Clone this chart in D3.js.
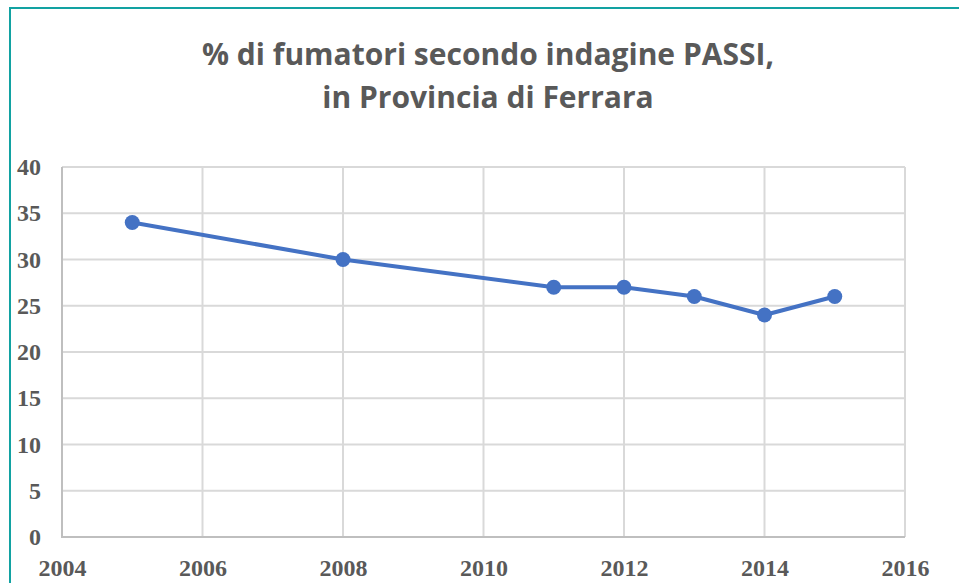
<!DOCTYPE html>
<html>
<head>
    <title>Fumatori PASSI Ferrara</title>
    <script src="https://d3js.org/d3.v7.min.js"></script>
    <style>
        body { margin: 0; background: #fff; }
        .tick-label { font-family: "Liberation Serif", serif; font-weight: bold; font-size: 24px; fill: #595959; }
        .title { font-family: "Open Sans", sans-serif; font-weight: bold; font-size: 30px; fill: #595959; }
    </style>
</head>
<body>
    <script>
        //****DATA****
        const years = [2005, 2008, 2011, 2012, 2013, 2014, 2015];
        const smokers = [34, 30, 27, 27, 26, 24, 26];
        const xTicks = [2004, 2006, 2008, 2010, 2012, 2014, 2016];
        const yTicks = [0, 5, 10, 15, 20, 25, 30, 35, 40];
        const titleLines = ['% di fumatori secondo indagine PASSI,', 'in Provincia di Ferrara'];

        const width = 959;
        const height = 583;
        const plotLeft = 62, plotRight = 905, plotTop = 167, plotBottom = 537;

        const svg = d3.select('body')
            .append('svg')
            .attr('width', width)
            .attr('height', height);

        // frame of the chart object (teal, only left/top visible)
        svg.append('rect')
            .attr('x', 10)
            .attr('y', 8)
            .attr('width', width + 20)
            .attr('height', height + 20)
            .attr('fill', 'none')
            .attr('stroke', '#12a2a2')
            .attr('stroke-width', 2);

        //****SCALES****
        const xScale = d3.scaleLinear()
            .domain([2004, 2016])
            .range([plotLeft, plotRight]);

        const yScale = d3.scaleLinear()
            .domain([0, 40])
            .range([plotBottom, plotTop]);

        //****GRID****
        const grid = svg.append('g').attr('id', 'grid');

        grid.selectAll('.hgrid')
            .data(yTicks)
            .enter()
            .append('line')
            .attr('x1', plotLeft)
            .attr('x2', plotRight)
            .attr('y1', d => yScale(d))
            .attr('y2', d => yScale(d))
            .attr('stroke', '#d9d9d9')
            .attr('stroke-width', 2);

        grid.selectAll('.vgrid')
            .data(xTicks)
            .enter()
            .append('line')
            .attr('x1', d => xScale(d))
            .attr('x2', d => xScale(d))
            .attr('y1', plotTop)
            .attr('y2', plotBottom)
            .attr('stroke', '#d9d9d9')
            .attr('stroke-width', 2);

        // axis lines (slightly darker)
        svg.append('line')
            .attr('x1', plotLeft).attr('x2', plotLeft)
            .attr('y1', plotTop).attr('y2', plotBottom)
            .attr('stroke', '#bfbfbf').attr('stroke-width', 2);
        svg.append('line')
            .attr('x1', plotLeft - 1).attr('x2', plotRight)
            .attr('y1', plotBottom).attr('y2', plotBottom)
            .attr('stroke', '#bfbfbf').attr('stroke-width', 2);

        //****AXES LABELS****
        const yAxis = d3.axisLeft(yScale).tickValues(yTicks).tickSize(0).tickPadding(21);
        svg.append('g')
            .attr('transform', `translate(${plotLeft},0)`)
            .call(yAxis)
            .call(g => g.select('.domain').remove())
            .selectAll('text')
            .attr('class', 'tick-label')
            .attr('dy', '0.32em');

        const xAxis = d3.axisBottom(xScale).tickValues(xTicks).tickFormat(d3.format('d')).tickSize(0).tickPadding(22);
        svg.append('g')
            .attr('transform', `translate(0,${plotBottom})`)
            .call(xAxis)
            .call(g => g.select('.domain').remove())
            .selectAll('text')
            .attr('class', 'tick-label');

        //****LINE****
        const data = years.map((y, i) => ({ year: y, value: smokers[i] }));

        const line = d3.line()
            .x(d => xScale(d.year))
            .y(d => yScale(d.value));

        svg.append('path')
            .datum(data)
            .attr('d', line)
            .attr('fill', 'none')
            .attr('stroke', '#4472c4')
            .attr('stroke-width', 4)
            .attr('stroke-linejoin', 'round');

        svg.selectAll('.dot')
            .data(data)
            .enter()
            .append('circle')
            .attr('class', 'dot')
            .attr('cx', d => xScale(d.year))
            .attr('cy', d => yScale(d.value))
            .attr('r', 7.5)
            .attr('fill', '#4472c4');

        //****TITLE****
        svg.selectAll('.title')
            .data(titleLines)
            .enter()
            .append('text')
            .attr('class', 'title')
            .attr('x', 488)
            .attr('y', (d, i) => 65 + i * 43)
            .attr('text-anchor', 'middle')
            .text(d => d);
    </script>
</body>
</html>
